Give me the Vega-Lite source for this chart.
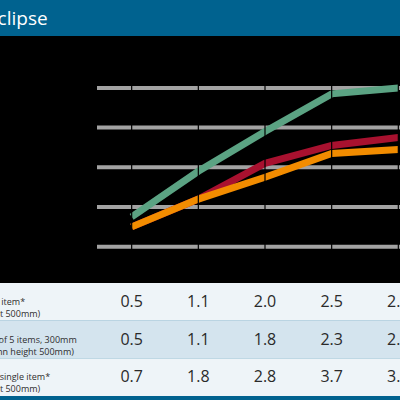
{
  "$schema": "https://vega.github.io/schema/vega-lite/v6.json",
  "description": "Eclipse - measured values per item type",
  "background": "#00628f",
  "padding": {"left": 0, "top": 0, "right": 0, "bottom": 4},
  "spacing": 0,
  "bounds": "flush",
  "config": {"view": {"stroke": null}, "font": "Open Sans"},
  "datasets": {
    "lines": [
      {"row": "r1", "col": 1, "reading": 0.5, "table": "0.5"},
      {"row": "r1", "col": 2, "reading": 1.2, "table": "1.1"},
      {"row": "r1", "col": 3, "reading": 2.1, "table": "2.0"},
      {"row": "r1", "col": 4, "reading": 2.55, "table": "2.5"},
      {"row": "r1", "col": 5, "reading": 2.75, "table": "2.8"},
      {"row": "r2", "col": 1, "reading": 0.5, "table": "0.5"},
      {"row": "r2", "col": 2, "reading": 1.2, "table": "1.1"},
      {"row": "r2", "col": 3, "reading": 1.75, "table": "1.8"},
      {"row": "r2", "col": 4, "reading": 2.35, "table": "2.3"},
      {"row": "r2", "col": 5, "reading": 2.45, "table": "2.5"},
      {"row": "r3", "col": 1, "reading": 0.75, "table": "0.7"},
      {"row": "r3", "col": 2, "reading": 1.9, "table": "1.8"},
      {"row": "r3", "col": 3, "reading": 2.9, "table": "2.8"},
      {"row": "r3", "col": 4, "reading": 3.85, "table": "3.7"},
      {"row": "r3", "col": 5, "reading": 4.0, "table": "3.9"}
    ],
    "rowLabels": [
      {"row": "r1", "label": ["Single item*", "(height 500mm)"]},
      {"row": "r2", "label": ["Stack of 5 items, 300mm", "(column height 500mm)"]},
      {"row": "r3", "label": ["Large single item*", "(height 500mm)"]}
    ]
  },
  "vconcat": [
    {
      "width": 400,
      "height": 36,
      "data": {"values": [{"name": "Eclipse"}]},
      "mark": {"type": "text", "align": "left", "baseline": "alphabetic", "color": "white", "fontSize": 19, "clip": true},
      "encoding": {
        "x": {"datum": -1.17, "type": "quantitative", "scale": {"domain": [-0.975, 5.025], "nice": false}, "axis": null},
        "y": {"datum": 11, "type": "quantitative", "scale": {"domain": [0, 36], "nice": false}, "axis": null},
        "text": {"field": "name"}
      }
    },
    {
      "width": 400,
      "height": 247,
      "view": {"fill": "black"},
      "layer": [
        {
          "data": {"values": [{"tick": 0}, {"tick": 1}, {"tick": 2}, {"tick": 3}, {"tick": 4}]},
          "mark": {"type": "rule", "color": "#a3a3a3", "strokeWidth": 4, "clip": true},
          "encoding": {
            "y": {"field": "tick", "type": "quantitative", "scale": {"domain": [-0.914, 5.307], "nice": false, "zero": false}, "axis": null},
            "x": {"datum": 0.48, "type": "quantitative", "scale": {"domain": [-0.975, 5.025], "nice": false, "zero": false}, "axis": null},
            "x2": {"datum": 5.6}
          }
        },
        {
          "data": {"name": "lines"},
          "mark": {"type": "line", "strokeWidth": 7, "clip": true},
          "encoding": {
            "x": {"field": "col", "type": "quantitative"},
            "y": {"field": "reading", "type": "quantitative"},
            "color": {
              "field": "row",
              "type": "nominal",
              "scale": {"domain": ["r1", "r2", "r3"], "range": ["#a8112f", "#f28c00", "#5ba383"]},
              "legend": null
            }
          }
        },
        {
          "data": {"values": [{"col": 1}, {"col": 2}, {"col": 3}, {"col": 4}, {"col": 5}]},
          "mark": {"type": "rule", "color": "black", "strokeWidth": 1.2},
          "encoding": {
            "x": {"field": "col", "type": "quantitative"}
          }
        }
      ]
    },
    {
      "width": 400,
      "height": 113,
      "layer": [
        {
          "data": {"name": "rowLabels"},
          "mark": {"type": "rect", "clip": true},
          "encoding": {
            "y": {"field": "row", "type": "nominal", "scale": {"domain": ["r1", "r2", "r3"], "paddingInner": 0, "paddingOuter": 0}, "axis": null},
            "x": {"datum": -2, "type": "quantitative", "scale": {"domain": [-0.975, 5.025], "nice": false, "zero": false}, "axis": null},
            "x2": {"datum": 7},
            "fill": {
              "field": "row",
              "type": "nominal",
              "scale": {"domain": ["r1", "r2", "r3"], "range": ["#eef4f8", "#d4e4ee", "#eef4f8"]},
              "legend": null
            }
          }
        },
        {
          "data": {"name": "rowLabels"},
          "mark": {"type": "text", "align": "left", "baseline": "middle", "fontSize": 9, "lineHeight": 12, "color": "#2e2e2e", "clip": true},
          "encoding": {
            "y": {"field": "row", "type": "nominal"},
            "x": {"datum": -1.365, "type": "quantitative"},
            "text": {"field": "label"}
          }
        },
        {
          "data": {"name": "lines"},
          "mark": {"type": "text", "align": "center", "baseline": "middle", "fontSize": 16, "color": "#2a2a2a", "clip": true},
          "encoding": {
            "y": {"field": "row", "type": "nominal"},
            "x": {"field": "col", "type": "quantitative"},
            "text": {"field": "table"}
          }
        }
      ]
    }
  ]
}
